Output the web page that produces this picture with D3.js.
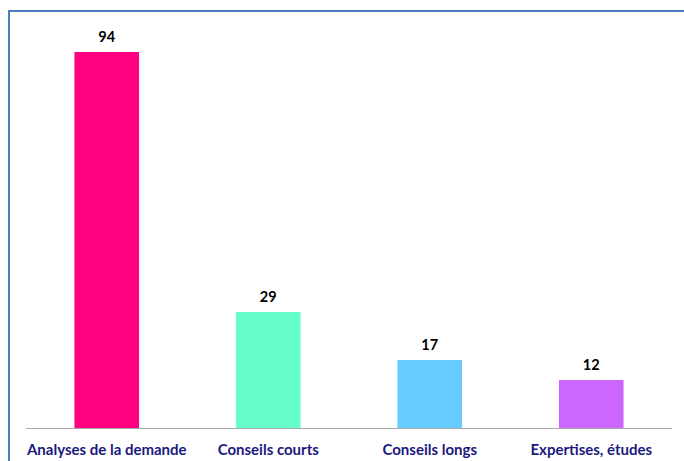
<!DOCTYPE html>
<html>
<head>
<meta charset="utf-8">
<script src="https://cdn.jsdelivr.net/npm/d3@7"></script>
<style>
    body { margin: 0; background: #fff; }
    svg { display: block; }
</style>
</head>
<body>
<svg width="684" height="461"></svg>
<script>
var categories = ['Analyses de la demande', 'Conseils courts', 'Conseils longs', 'Expertises, études'];
var values = [94, 29, 17, 12];
var colors = ['#FF0080', '#66FFCC', '#66CCFF', '#CC66FF'];

var svg = d3.select('svg');

// frame: only top and left edges show inside the crop
svg.append('path')
    .attr('d', 'M9,461V11H684')
    .style('fill', 'none')
    .style('stroke', '#4A7EBB')
    .style('stroke-width', 2);

var x = d3.scaleBand()
    .domain(categories)
    .range([26, 672])
    .paddingInner(0.6)
    .paddingOuter(0.3);

var y = d3.scaleLinear()
    .domain([0, 94])
    .range([428, 52]);

var data = categories.map(function (c, i) {
    return {name: c, value: values[i], color: colors[i]};
});

svg.selectAll('rect.bar')
    .data(data)
    .enter()
    .append('rect')
    .attr('class', 'bar')
    .attr('x', function (d) { return x(d.name); })
    .attr('width', x.bandwidth())
    .attr('y', function (d) { return y(d.value); })
    .attr('height', function (d) { return y(0) - y(d.value); })
    .style('fill', function (d) { return d.color; });

svg.append('line')
    .attr('x1', 26)
    .attr('x2', 672)
    .attr('y1', y(0) + 0.5)
    .attr('y2', y(0) + 0.5)
    .style('stroke', '#A6A6A6')
    .style('stroke-width', 1);

svg.selectAll('text.val')
    .data(data)
    .enter()
    .append('text')
    .attr('class', 'val')
    .attr('x', function (d) { return x(d.name) + x.bandwidth() / 2; })
    .attr('y', function (d) { return y(d.value) - 10; })
    .style('text-anchor', 'middle')
    .style('font-family', 'Lato, sans-serif')
    .style('font-weight', 'bold')
    .style('font-size', '14.5px')
    .style('fill', '#000')
    .text(function (d) { return d.value; });

var xAxis = d3.axisBottom(x).tickSize(0).tickPadding(0);

var gx = svg.append('g')
    .attr('transform', 'translate(0,' + 455 + ')')
    .call(xAxis);

gx.select('.domain').remove();
gx.selectAll('text')
    .attr('dy', 0)
    .style('font-family', 'Lato, sans-serif')
    .style('font-weight', 'bold')
    .style('font-size', '15px')
    .style('fill', '#1A1A7E');
</script>
</body>
</html>
